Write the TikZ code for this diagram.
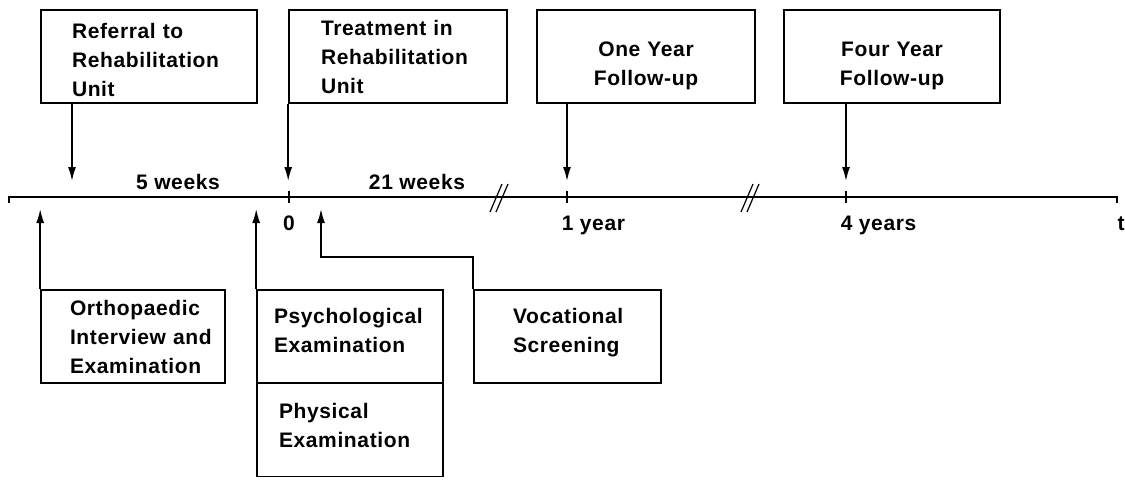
\documentclass[tikz,border=0pt]{standalone}
\usepackage{fontspec}
\newfontfamily\labfont[LetterSpace=3]{Liberation Sans}
\usetikzlibrary{arrows.meta}
\hyphenpenalty=10000
\exhyphenpenalty=10000

\tikzset{
  box/.style={draw, line width=1.6pt, minimum height=93pt, inner xsep=0pt, inner ysep=0pt, align=left},
  lower/.style={execute at begin node={\rule{0pt}{#1}}},
  raise/.style={execute at end node={\rule[-#1]{0pt}{#1}}},
  lab/.style={inner sep=0pt, anchor=base},
}

\begin{document}
\begin{tikzpicture}[x=1pt, y=-1pt, line width=1.6pt,
  font=\labfont\bfseries\fontsize{21}{29}\selectfont, >={Latex[length=14pt,width=8pt]}]
\useasboundingbox (0,0) rectangle (1125,480);
% boxes above the time axis
\node[box, lower=23pt, minimum width=216pt, text width=154pt] (referral) at (149,56.5) {Referral to\\Rehabilitation\\Unit};
\node[box, minimum width=218pt, text width=154pt] (treat) at (398,56.5) {Treatment in\\Rehabilitation\\Unit};
\node[box, lower=34pt, minimum width=218pt, text width=200pt, align=center] (oneyear) at (646,56.5) {One Year\\Follow-up};
\node[box, lower=34pt, minimum width=216pt, text width=200pt, align=center] (fouryear) at (892,56.5) {Four Year\\Follow-up};
% boxes below the time axis
\node[box, minimum width=184pt, text width=126pt] (ortho) at (133,336.5) {Orthopaedic\\Interview~and\\Examination};
\node[box, raise=12pt, minimum width=186pt, text width=152pt] (psych) at (350,336.5) {Psychological\\Examination};
\node[box, raise=9pt, minimum width=186pt, text width=142pt] (phys) at (350,430) {Physical\\Examination};
\node[box, raise=12pt, minimum width=187pt, text width=109pt] (voc) at (567.5,336.5) {Vocational\\Screening};
% time axis
\coordinate (axl) at (9,197);
\coordinate (axr) at (1117,197);
\draw (9,203) -- (axl) -- (axr) -- (1117,203);
\foreach \x in {289,567,846}
  \draw (\x,191) -- (\x,203);
\foreach \x in {499,750} {
  \draw[line width=1.2pt] (\x-9,212) -- (\x+3,184);
  \draw[line width=1.2pt] (\x-3,212) -- (\x+9,184);
}
\node[lab] (fiveweeks) at (178,189) {5 weeks};
\node[lab] (twentyone) at (417,189) {21 weeks};
\node[lab] (zero) at (289,230) {0};
\node[lab, anchor=base west] (oneyr) at (561,230) {1 year};
\node[lab, anchor=base west] (fouryr) at (840,230) {4 years};
\node[lab] (tlab) at (1121,230) {t};
% arrows down onto the axis
\coordinate (refpt) at (72,181);
\coordinate (yrone) at (567,181);
\coordinate (yrfour) at (846,181);
\draw[->] (referral.south west -| refpt) -- (refpt);
\draw[->] (treat.south west) -- (treat.south west |- refpt);
\draw[->] (oneyear.south -| yrone) -- (yrone);
\draw[->] (fouryear.south -| yrfour) -- (yrfour);
% arrows up from the examinations
\coordinate (vocpt) at (321,209);
\draw[->] (ortho.north west) -- (ortho.north west |- vocpt);
\draw[->] (psych.north west) -- (psych.north west |- vocpt);
\draw[->] (voc.north west) -- ++(0,-32) -| (vocpt);
\end{tikzpicture}
\end{document}
